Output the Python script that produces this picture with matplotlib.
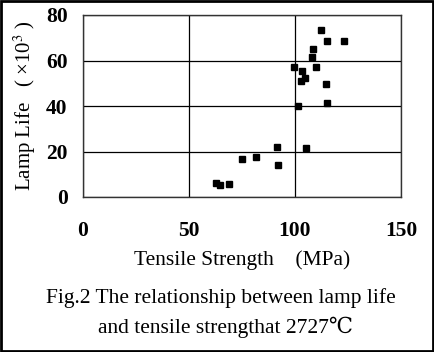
import matplotlib
matplotlib.use("Agg")
import matplotlib.pyplot as plt
from matplotlib.patches import Rectangle

plt.rcParams["font.family"] = ["Liberation Serif", "DejaVu Serif"]
plt.rcParams["mathtext.fontset"] = "stix"

# tensile strength (MPa) vs lamp life (x10^3 h)
strength = [62.8, 64.6, 69.0, 75.0, 81.5, 91.4, 91.9, 105.3, 99.7, 103.1,
            102.8, 104.8, 101.4, 107.8, 108.5, 109.9, 112.2, 115.2, 114.4,
            115.2, 123.2]
life = [6.0, 5.3, 5.7, 16.7, 17.4, 22.1, 14.1, 21.5, 57.0, 55.5,
        51.0, 52.2, 39.9, 61.7, 65.1, 57.0, 73.4, 68.7, 49.7,
        41.2, 68.7]

xticks = [0, 50, 100, 150]
yticks = [0, 20, 40, 60, 80]

fig = plt.figure(figsize=(4.34, 3.52), dpi=100)
fig.patch.set_facecolor("white")
ax = fig.add_axes([83 / 434, 1 - 197 / 352, 318 / 434, 182 / 352])

ax.plot(strength, life, "s", color="black", ms=5, mec="black")
ax.set_xlim(0, 150)
ax.set_ylim(0, 80)
ax.set_xticks(xticks)
ax.set_yticks(yticks)
ax.set_xticklabels([str(v) for v in xticks], fontsize=15.5, fontweight="bold")
ax.set_yticklabels([str(v) for v in yticks], fontsize=15.5, fontweight="bold")
ax.tick_params(length=0)
ax.tick_params(axis="x", pad=17)
ax.tick_params(axis="y", pad=11)
ax.grid(True, color="black", lw=0.9)
ax.set_axisbelow(True)
for s in ax.spines.values():
    s.set_color("#333333")
    s.set_linewidth(1.0)

ax.set_xlabel("Tensile Strength    (MPa)", fontsize=15.5, labelpad=7)
ax.set_ylabel("Lamp Life   ( ×10$^3$ )", fontsize=15, labelpad=6)

fig.text(0.5 + 0.01, 1 - 298 / 352, "Fig.2 The relationship between lamp life",
         ha="center", va="center", fontsize=15.5)
fig.text(0.5 + 0.02, 1 - 327 / 352, "and tensile strengthat 2727℃",
         ha="center", va="center", fontsize=15.5)

fig.add_artist(Rectangle((0.002, 0.003), 0.995, 0.994, transform=fig.transFigure,
                         fill=False, ec="black", lw=2))

fig.savefig("out.png", dpi=100, facecolor="white")
